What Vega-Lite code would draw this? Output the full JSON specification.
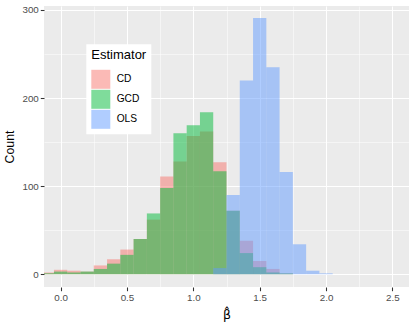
{
  "$schema": "https://vega.github.io/schema/vega-lite/v6.json",
  "width": 365,
  "height": 281,
  "autosize": {"type": "none"},
  "padding": {"left": 44, "top": 6, "right": 6, "bottom": 45},
  "background": "white",
  "config": {
    "view": {"fill": "#EBEBEB", "stroke": null},
    "font": "Liberation Sans",
    "axis": {
      "domain": false,
      "grid": true,
      "gridColor": "white",
      "tickColor": "#333333",
      "tickSize": 3.7,
      "tickWidth": 1.07,
      "labelColor": "#4D4D4D",
      "labelFontSize": 9.8,
      "labelFont": "Liberation Sans",
      "labelFlush": false,
      "labelOverlap": false,
      "titleFont": "Liberation Sans",
      "titleFontSize": 12.3,
      "titleFontWeight": "normal",
      "titleColor": "black"
    }
  },
  "data": {
    "values": [
      {"Estimator": "CD", "lo": -0.15, "hi": -0.05, "Count": 2},
      {"Estimator": "CD", "lo": -0.05, "hi": 0.05, "Count": 5},
      {"Estimator": "CD", "lo": 0.05, "hi": 0.15, "Count": 4},
      {"Estimator": "CD", "lo": 0.15, "hi": 0.25, "Count": 3},
      {"Estimator": "CD", "lo": 0.25, "hi": 0.35, "Count": 10},
      {"Estimator": "CD", "lo": 0.35, "hi": 0.45, "Count": 17},
      {"Estimator": "CD", "lo": 0.45, "hi": 0.55, "Count": 28},
      {"Estimator": "CD", "lo": 0.55, "hi": 0.65, "Count": 40},
      {"Estimator": "CD", "lo": 0.65, "hi": 0.75, "Count": 62},
      {"Estimator": "CD", "lo": 0.75, "hi": 0.85, "Count": 111},
      {"Estimator": "CD", "lo": 0.85, "hi": 0.95, "Count": 128},
      {"Estimator": "CD", "lo": 0.95, "hi": 1.05, "Count": 157},
      {"Estimator": "CD", "lo": 1.05, "hi": 1.15, "Count": 162},
      {"Estimator": "CD", "lo": 1.15, "hi": 1.25, "Count": 127},
      {"Estimator": "CD", "lo": 1.25, "hi": 1.35, "Count": 72},
      {"Estimator": "CD", "lo": 1.35, "hi": 1.45, "Count": 38},
      {"Estimator": "CD", "lo": 1.45, "hi": 1.55, "Count": 15},
      {"Estimator": "CD", "lo": 1.55, "hi": 1.65, "Count": 6},
      {"Estimator": "CD", "lo": 1.65, "hi": 1.75, "Count": 1},
      {"Estimator": "GCD", "lo": -0.15, "hi": -0.05, "Count": 1},
      {"Estimator": "GCD", "lo": -0.05, "hi": 0.05, "Count": 3},
      {"Estimator": "GCD", "lo": 0.05, "hi": 0.15, "Count": 2},
      {"Estimator": "GCD", "lo": 0.15, "hi": 0.25, "Count": 3},
      {"Estimator": "GCD", "lo": 0.25, "hi": 0.35, "Count": 6},
      {"Estimator": "GCD", "lo": 0.35, "hi": 0.45, "Count": 12},
      {"Estimator": "GCD", "lo": 0.45, "hi": 0.55, "Count": 22},
      {"Estimator": "GCD", "lo": 0.55, "hi": 0.65, "Count": 40},
      {"Estimator": "GCD", "lo": 0.65, "hi": 0.75, "Count": 69},
      {"Estimator": "GCD", "lo": 0.75, "hi": 0.85, "Count": 98},
      {"Estimator": "GCD", "lo": 0.85, "hi": 0.95, "Count": 160},
      {"Estimator": "GCD", "lo": 0.95, "hi": 1.05, "Count": 169},
      {"Estimator": "GCD", "lo": 1.05, "hi": 1.15, "Count": 184},
      {"Estimator": "GCD", "lo": 1.15, "hi": 1.25, "Count": 117},
      {"Estimator": "GCD", "lo": 1.25, "hi": 1.35, "Count": 72},
      {"Estimator": "GCD", "lo": 1.35, "hi": 1.45, "Count": 24},
      {"Estimator": "GCD", "lo": 1.45, "hi": 1.55, "Count": 8},
      {"Estimator": "GCD", "lo": 1.55, "hi": 1.65, "Count": 2},
      {"Estimator": "GCD", "lo": 1.65, "hi": 1.75, "Count": 1},
      {"Estimator": "OLS", "lo": 1.15, "hi": 1.25, "Count": 7},
      {"Estimator": "OLS", "lo": 1.25, "hi": 1.35, "Count": 90},
      {"Estimator": "OLS", "lo": 1.35, "hi": 1.45, "Count": 220},
      {"Estimator": "OLS", "lo": 1.45, "hi": 1.55, "Count": 291},
      {"Estimator": "OLS", "lo": 1.55, "hi": 1.65, "Count": 235},
      {"Estimator": "OLS", "lo": 1.65, "hi": 1.75, "Count": 116},
      {"Estimator": "OLS", "lo": 1.75, "hi": 1.85, "Count": 34},
      {"Estimator": "OLS", "lo": 1.85, "hi": 1.95, "Count": 4},
      {"Estimator": "OLS", "lo": 1.95, "hi": 2.05, "Count": 1}
    ]
  },
  "mark": {"type": "bar", "opacity": 0.5, "clip": true},
  "encoding": {
    "x": {
      "field": "lo",
      "type": "quantitative",
      "title": "β̂",
      "scale": {"domain": [-0.125, 2.625], "nice": false, "zero": false},
      "axis": {
        "values": [0, 0.25, 0.5, 0.75, 1, 1.25, 1.5, 1.75, 2, 2.25, 2.5],
        "labelExpr": "datum.value % 0.5 === 0 ? format(datum.value, '.1f') : ''",
        "gridWidth": {"condition": {"test": "datum.value % 0.5 !== 0", "value": 0.53}, "value": 1.07},
        "tickOpacity": {"condition": {"test": "datum.value % 0.5 !== 0", "value": 0}, "value": 1},
        "labelPadding": 2,
        "titlePadding": 6,
        "titleFont": "DejaVu Sans",
        "titleFontSize": 12.5
      }
    },
    "x2": {"field": "hi"},
    "y": {
      "field": "Count",
      "type": "quantitative",
      "title": "Count",
      "scale": {"domain": [-14.5, 304.5], "nice": false, "zero": false},
      "axis": {
        "values": [0, 50, 100, 150, 200, 250, 300],
        "labelExpr": "datum.value % 100 === 0 ? format(datum.value, 'd') : ''",
        "gridWidth": {"condition": {"test": "datum.value % 100 !== 0", "value": 0.53}, "value": 1.07},
        "tickOpacity": {"condition": {"test": "datum.value % 100 !== 0", "value": 0}, "value": 1},
        "labelPadding": 2,
        "titlePadding": 5
      }
    },
    "y2": {"datum": 0},
    "color": {
      "field": "Estimator",
      "type": "nominal",
      "scale": {"domain": ["CD", "GCD", "OLS"], "range": ["#F8766D", "#00BA38", "#619CFF"]},
      "legend": {
        "orient": "none",
        "legendX": 42.3,
        "legendY": 38.3,
        "fillColor": "white",
        "padding": 5,
        "title": "Estimator",
        "titleFont": "Liberation Sans",
        "titleFontSize": 13,
        "titleFontWeight": "normal",
        "titleColor": "black",
        "titlePadding": 7.5,
        "symbolType": "square",
        "symbolSize": 361,
        "symbolOpacity": 0.5,
        "symbolStrokeWidth": 0,
        "labelFont": "Liberation Sans",
        "labelFontSize": 10.2,
        "labelColor": "black",
        "labelOffset": 6.4,
        "rowPadding": 1
      }
    }
  }
}
